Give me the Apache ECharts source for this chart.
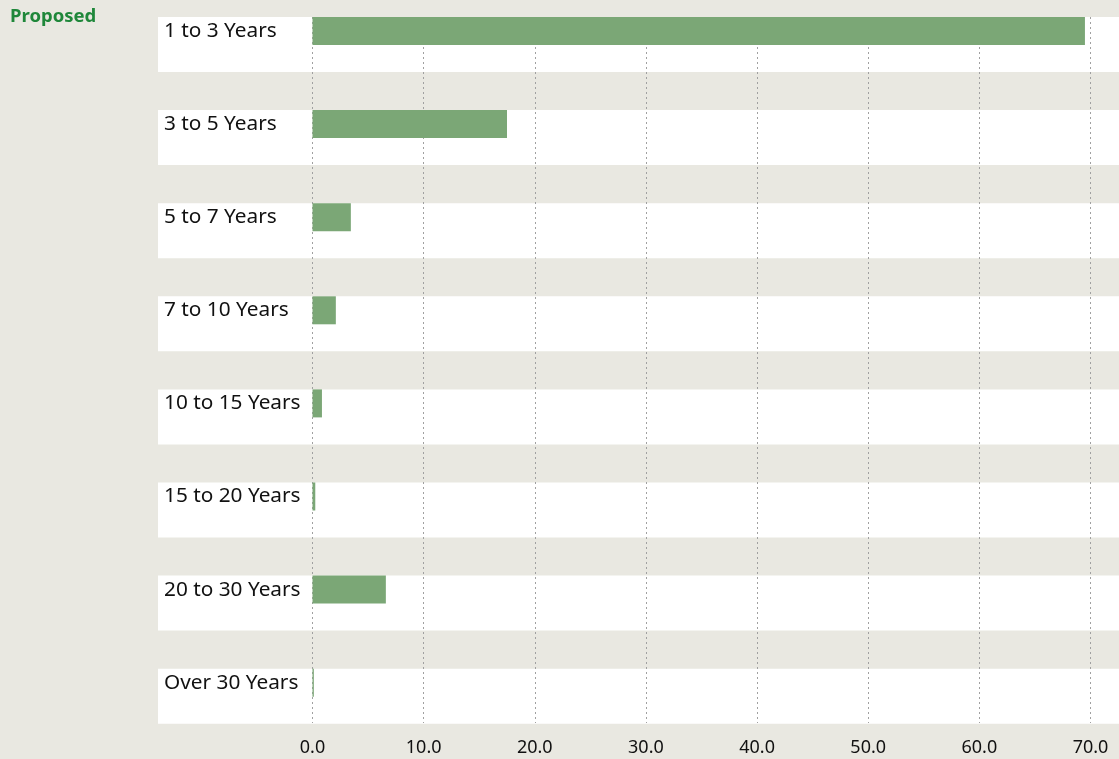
<!DOCTYPE html>
<html>
<head>
<meta charset="utf-8">
<script src="https://cdn.jsdelivr.net/npm/echarts@6/dist/echarts.min.js"></script>
<style>
html,body{margin:0;padding:0;background:#e9e8e1;}
#c{width:1119px;height:759px;}
</style>
</head>
<body>
<div id="c"></div>
<script>
const categories = ['1 to 3 Years','3 to 5 Years','5 to 7 Years','7 to 10 Years','10 to 15 Years','15 to 20 Years','20 to 30 Years','Over 30 Years'];
const proposedValues = [69.5, 17.5, 3.45, 2.1, 0.85, 0.25, 6.6, 0.12];
const xTickLabels = ['0.0','10.0','20.0','30.0','40.0','50.0','60.0','70.0'];
const bandValues = categories.map(() => 1);

const chart = echarts.init(document.getElementById('c'), null, {renderer:'canvas'});
const FONT = 'Noto Sans';
const cellH = 93.1;
const spanH = cellH * (categories.length - 1);

chart.setOption({
  backgroundColor: '#e9e8e1',
  animation: false,
  title: {
    text: 'Proposed', left: 5, top: 2,
    textStyle: {fontFamily: FONT, fontSize: 18.5, fontWeight: 'bold', color: '#1f873a'}
  },
  grid: [
    {left: 158, right: 0, top: 44.5, height: spanH},
    {left: 312.5, right: 28.5, top: 31, height: spanH},
    {left: 312.5, right: 28.5, top: 17, bottom: 36}
  ],
  xAxis: [
    {gridIndex: 0, type: 'value', min: 0, max: 1, show: false},
    {gridIndex: 1, type: 'value', min: 0, max: 70, interval: 10, show: false},
    {gridIndex: 2, type: 'value', min: 0, max: 70, interval: 10, z: 1,
     axisLine: {show: false}, axisTick: {show: false},
     splitLine: {show: true, lineStyle: {color: '#a0a0a0', width: 1, type: [2, 3]}},
     axisLabel: {margin: 16, fontFamily: FONT, fontSize: 18, color: '#111',
       formatter: (v) => xTickLabels[Math.round(v / 10)] ?? v.toFixed(1)}}
  ],
  yAxis: [
    {gridIndex: 0, type: 'category', data: categories, inverse: true, boundaryGap: false, show: false},
    {gridIndex: 1, type: 'category', data: categories, inverse: true, boundaryGap: false,
     axisLine: {show: false}, axisTick: {show: false}, splitLine: {show: false},
     axisLabel: {align: 'left', margin: 148.5, fontFamily: FONT, fontSize: 20.8, color: '#111'}},
    {gridIndex: 2, type: 'category', data: categories, inverse: true, show: false}
  ],
  series: [
    {type: 'bar', xAxisIndex: 0, yAxisIndex: 0, data: bandValues, barWidth: 55, clip: false,
     itemStyle: {color: '#ffffff'}, silent: true, z: 0},
    {type: 'bar', xAxisIndex: 1, yAxisIndex: 1, data: proposedValues, barWidth: 28, clip: false,
     itemStyle: {color: '#7ba776'}, z: 3}
  ]
});
</script>
</body>
</html>
